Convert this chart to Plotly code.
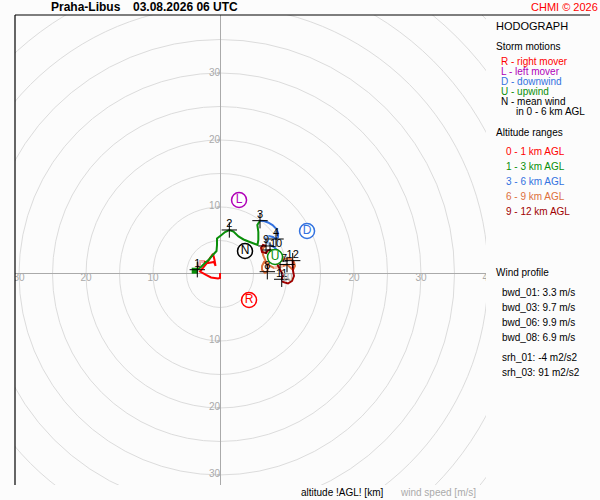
import plotly.graph_objects as go

# hodograph segments, wind components u/v in m/s
red_u = [0, 0, -0.30, -1.34, -2.09, -2.99, -2.54, -1.94, -1.49, -1.04, -0.82, -0.67,
         -0.90, -1.72, -2.39, -2.99, -3.06, -3.39]
red_v = [0.15, -0.60, -0.67, -0.52, -0.15, 0.37, 0.90, 1.64, 2.39, 2.99, 2.09, 1.19,
         1.79, 1.64, 1.87, 1.94, 1.34, 0.64]
green_u = [-3.39, -2.84, -2.24, -1.64, -1.04, -0.52, -0.45, -0.45, 0.22, 0.75, 1.39,
           2.01, 2.76, 3.51, 4.25, 5.07, 5.60, 5.72, 5.72, 5.57, 5.97]
green_v = [0.64, 1.04, 1.64, 2.16, 2.88, 3.43, 4.33, 5.30, 5.82, 6.27, 6.57,
           6.34, 5.60, 5.15, 4.85, 4.55, 4.33, 5.07, 6.27, 7.31, 7.96]
blue_u = [5.97, 6.57, 7.16, 7.84, 8.36, 8.66, 8.66, 8.36, 7.91, 7.31, 6.87, 7.01,
          7.46, 8.06, 8.51, 8.36, 8.36, 8.66, 8.96]
blue_v = [7.96, 7.91, 7.69, 7.31, 6.79, 6.12, 5.52, 5.22, 5.52, 5.67, 5.37, 4.78,
          4.33, 4.03, 3.58, 2.99, 2.54, 2.24, 1.94]
orange_u = [8.96, 9.40, 10.0, 10.60, 11.04, 11.19, 10.90, 10.45, 10.0, 9.40, 8.81,
            8.06, 7.46, 7.01, 6.57, 6.27, 6.27, 6.72, 7.06, 7.16, 6.87, 6.42, 6.27,
            6.57, 6.87]
orange_v = [1.94, 2.16, 2.31, 2.24, 1.79, 1.19, 0.60, 1.04, 1.42, 1.19, 1.04,
            0.90, 1.19, 1.64, 1.79, 1.19, 0.60, 0.15, 0.34, 0.90, 1.79, 2.84, 3.58,
            4.03, 4.18]
dred_u = [6.87, 6.42, 6.12, 6.27, 6.87, 7.16, 7.46, 7.76, 8.36, 8.96, 9.40, 9.21,
          9.40, 10.15, 10.75, 11.04, 10.90, 10.85, 10.85]
dred_v = [4.18, 4.33, 3.88, 3.28, 3.13, 3.51, 3.58, 2.84, 1.79, 0.60, -0.15, -0.79,
          -1.19, -1.42, -1.04, -0.30, 0.45, 1.34, 1.99]

# lighter stretches of the profile
pink_u = [-2.39, -2.99, -3.06, -3.06]
pink_v = [1.87, 1.94, 1.34, 0.60]
lblue_u = [7.31, 6.87, 7.01, 7.46]
lblue_v = [5.67, 5.37, 4.78, 4.33]
salmon_u = [9.40, 8.81, 8.06]
salmon_v = [1.19, 1.04, 0.90]

# green square near the start of the 1-3 km layer
sq_u = [-3.78]
sq_v = [0.49]

# km marks (5 and 6 sit under the U symbol)
km_labels = ['1', '2', '3', '4', '', '', '7', '8', '9', '10', '11', '12']
km_u = [-3.39, 1.39, 5.97, 8.36, 8.36, 8.96, 10.0, 7.06, 6.87, 7.46, 9.21, 10.85]
km_v = [0.64, 6.57, 7.96, 5.22, 2.54, 1.94, 1.42, 0.34, 4.18, 3.58, -0.79, 1.99]
km_pos = ['top center', 'top center', 'top center', 'top center', 'top center',
          'top center', 'top left', 'top center', 'top center', 'top right',
          'top center', 'top center']

# storm motions
storm_names = ['R', 'L', 'D', 'U', 'N']
storm_u = [4.33, 2.84, 12.99, 8.21, 3.73]
storm_v = [-3.88, 11.04, 6.42, 2.54, 3.43]

x_ticks = [-30, -20, -10, 10, 20, 30, 40]
y_ticks = [-30, -20, -10, 10, 20, 30]
rings = list(range(5, 60, 5))

RED = '#ff0000'
GREEN = '#0a8f0a'
BLUE = '#3372e0'
ORANGE = '#dc703c'
DRED = '#a00000'
PURPLE = '#b000b8'
GREY = '#aaaaaa'
storm_colors = [RED, PURPLE, BLUE, GREEN, 'black']

FONT = 'Liberation Sans, Arial, sans-serif'


def line(u, v, color, width=2):
    return go.Scatter(x=u, y=v, mode='lines', line={'color': color, 'width': width},
                      hoverinfo='skip', showlegend=False)


data = [
    line(red_u, red_v, RED),
    line(pink_u, pink_v, '#f6b4b4'),
    line(green_u, green_v, GREEN),
    line(blue_u, blue_v, BLUE),
    line(lblue_u, lblue_v, '#a9c7f0'),
    line(orange_u, orange_v, ORANGE),
    line(salmon_u, salmon_v, '#f2bca6'),
    line(dred_u, dred_v, DRED),
]

data.append(go.Scatter(x=sq_u, y=sq_v, mode='markers',
                       marker={'symbol': 'square', 'size': 6, 'color': GREEN},
                       showlegend=False, hoverinfo='skip'))

data.append(go.Scatter(
    x=km_u, y=km_v, mode='markers',
    marker={'symbol': 'cross-thin', 'size': 11,
            'line': {'color': 'black', 'width': 1}},
    showlegend=False, hoverinfo='skip'))
data.append(go.Scatter(
    x=km_u, y=km_v, mode='text', text=km_labels, textposition=km_pos,
    textfont={'color': 'black', 'size': 11, 'family': FONT},
    showlegend=False, hoverinfo='skip'))

data.append(go.Scatter(
    x=storm_u, y=storm_v, mode='markers+text', text=storm_names,
    textposition='middle center',
    textfont={'color': storm_colors, 'size': 12, 'family': FONT},
    marker={'symbol': 'circle', 'size': 15, 'color': 'white',
            'line': {'color': storm_colors, 'width': 1.5}},
    showlegend=False, hoverinfo='skip'))

# axis numbers
data.append(go.Scatter(
    x=x_ticks, y=[0] * len(x_ticks), mode='text',
    text=[str(abs(t)) for t in x_ticks], textposition='bottom center',
    textfont={'color': GREY, 'size': 10, 'family': FONT}, cliponaxis=True,
    showlegend=False, hoverinfo='skip'))
data.append(go.Scatter(
    x=[0] * len(y_ticks), y=y_ticks, mode='text',
    text=[str(abs(t)) for t in y_ticks], textposition='middle left',
    textfont={'color': GREY, 'size': 10, 'family': FONT}, cliponaxis=True,
    showlegend=False, hoverinfo='skip'))

shapes = []
for r in rings:
    shapes.append(dict(type='circle', xref='x', yref='y', x0=-r, x1=r, y0=-r, y1=r,
                       line={'color': '#dcdcdc', 'width': 1}, layer='below'))
for t in y_ticks:
    shapes.append(dict(type='line', xref='x', yref='y', xsizemode='pixel', xanchor=0,
                       x0=-3, x1=0, y0=t, y1=t, line={'color': GREY, 'width': 1}))
# frame: left and top only
shapes.append(dict(type='line', xref='paper', yref='paper', x0=0, x1=0, y0=0, y1=1,
                   line={'color': 'black', 'width': 1.2}))
shapes.append(dict(type='line', xref='paper', yref='paper', x0=0, x1=575 / 471,
                   y0=1, y1=1, line={'color': 'black', 'width': 1.2}))


def note(text, x, y, color='black', size=10):
    ''' text placed by pixel position of the original page '''
    return dict(text=text, x=(x - 15) / 471, y=(485 - y) / 470, xref='paper',
                yref='paper', xanchor='left', yanchor='middle', showarrow=False,
                font={'color': color, 'size': size, 'family': FONT})


annotations = [
    note('<b>Praha-Libus</b>', 49, 7, size=12),
    note('<b>03.08.2026 06 UTC</b>', 130.5, 7, size=12),
    note('CHMI © 2026', 529, 7, RED, 11),
    note('HODOGRAPH', 494, 26, size=11),
    note('Storm motions', 494, 46.5),
    note('R - right mover', 499, 61.5, RED),
    note('L - left mover', 499, 71.5, PURPLE),
    note('D - downwind', 499, 81.5, BLUE),
    note('U - upwind', 499, 91.5, GREEN),
    note('N - mean wind', 499, 101.5),
    note('in 0 - 6 km AGL', 513.5, 111.5),
    note('Altitude ranges', 494, 132),
    note('0 - 1 km AGL', 504, 151.5, RED),
    note('1 - 3 km AGL', 504, 166.5, GREEN),
    note('3 - 6 km AGL', 504, 181.5, BLUE),
    note('6 - 9 km AGL', 504, 196.5, ORANGE),
    note('9 - 12 km AGL', 504, 211.5, DRED),
    note('Wind profile', 494, 272.5),
    note('bwd_01: 3.3 m/s', 499.5, 292),
    note('bwd_03: 9.7 m/s', 499.5, 307),
    note('bwd_06: 9.9 m/s', 499.5, 322),
    note('bwd_08: 6.9 m/s', 499.5, 337),
    note('srh_01: -4 m2/s2', 499.5, 357),
    note('srh_03: 91 m2/s2', 499.5, 372),
    note('altitude !AGL! [km]', 299, 492),
    note('wind speed [m/s]', 398, 492, GREY),
]

axis = {'showgrid': False, 'zeroline': True, 'zerolinecolor': GREY,
        'zerolinewidth': 1, 'showticklabels': False, 'ticks': '',
        'showline': False, 'fixedrange': True}

layout = go.Layout(
    width=600,
    height=500,
    margin={'l': 15, 'r': 114, 't': 15, 'b': 15},
    paper_bgcolor='#fcfcfc',
    plot_bgcolor='#fcfcfc',
    xaxis=dict(axis, range=[-30.6, 39.7]),
    yaxis=dict(axis, range=[-31.5, 38.66]),
    shapes=shapes,
    annotations=annotations,
    showlegend=False,
    font={'family': FONT},
)

fig = go.Figure(data=data, layout=layout)
# page has a default 8px body margin, drop it so the figure fills the window
fig.write_html('out.html', config={'displayModeBar': False},
               post_script="document.body.style.margin='0';")
